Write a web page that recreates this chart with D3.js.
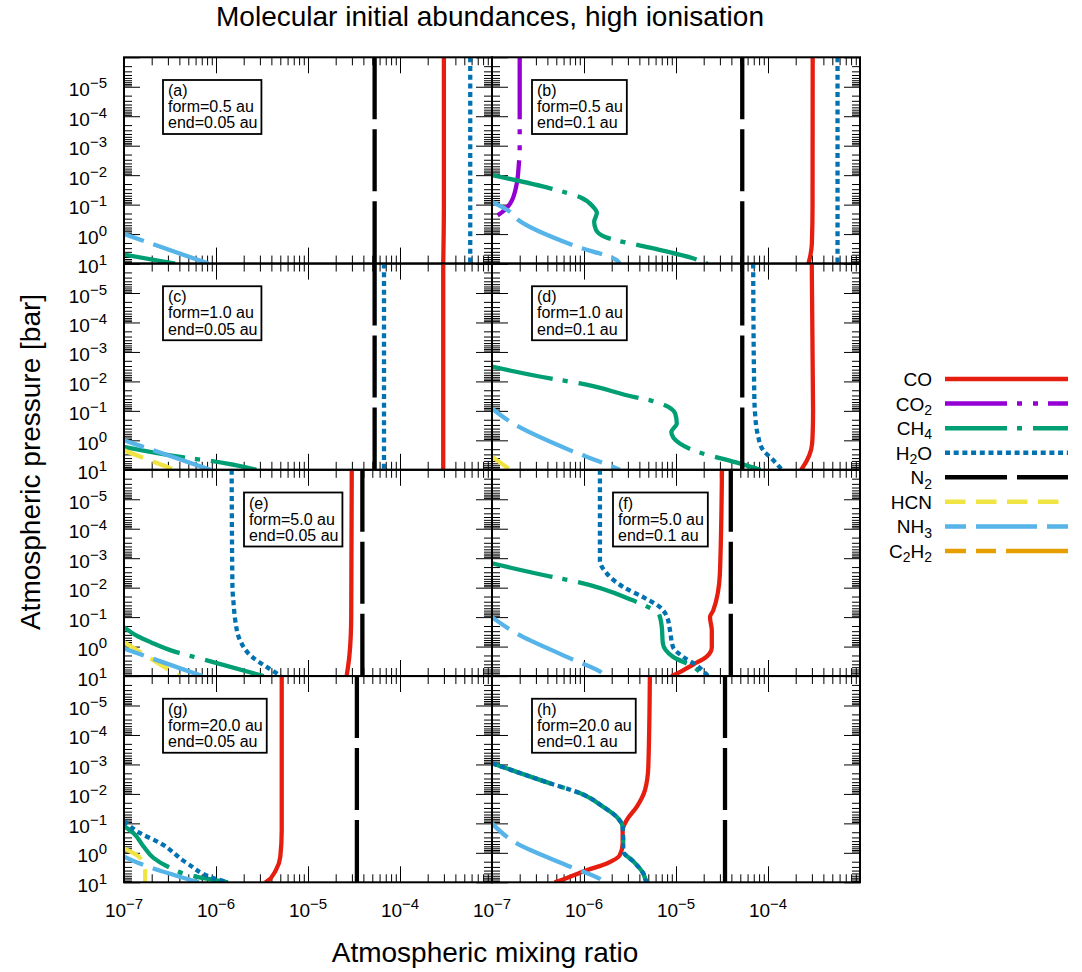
<!DOCTYPE html>
<html><head><meta charset="utf-8">
<script src="https://cdn.jsdelivr.net/npm/d3@7"></script>
<style>
body{margin:0;background:#fff}
text{font-family:"Liberation Sans",Arial,Helvetica,sans-serif;fill:#000}
</style>
</head><body>
<svg id="c" width="1082" height="972"></svg>
<script>
// ---------------- data ----------------
const species = ["CO","CO2","CH4","H2O","N2","HCN","NH3","C2H2"];
const speciesLabels = [
  [["CO",0]], [["CO",0],["2",1]], [["CH",0],["4",1]], [["H",0],["2",1],["O",0]],
  [["N",0],["2",1]], [["HCN",0]], [["NH",0],["3",1]], [["C",0],["2",1],["H",0],["2",1]]
];
const panelLetters = ["a","b","c","d","e","f","g","h"];
const formAu = ["0.5","0.5","1.0","1.0","5.0","5.0","20.0","20.0"];
const endAu  = ["0.05","0.1","0.05","0.1","0.05","0.1","0.05","0.1"];
const xTickExps = [-7,-6,-5,-4];
const yTickExps = [-5,-4,-3,-2,-1,0,1];

// [mixing ratio, pressure (bar)]
// panel (a)
const coA  = [[3.0e-4,1e-6],[3.0e-4,1e-1],[2.95e-4,10]];
const h2oA = [[5.8e-4,1e-6],[5.8e-4,10]];
const n2A  = [[5.3e-5,1e-6],[5.3e-5,10]];
const ch4A = [[1e-7,5.0],[3.6e-7,10]];
const nh3A = [[1e-7,1.0],[8.3e-7,10]];
// panel (b)
const coB  = [[3.06e-4,1e-6],[3.05e-4,1e-1],[3.0e-4,2.0],[2.9e-4,5.0],[2.75e-4,10]];
const co2B = [[2.0e-7,1e-6],[2.0e-7,1e-3],[1.95e-7,5.0e-3],[1.86e-7,1.9e-2],[1.58e-7,9.1e-2],[1.17e-7,0.224],[8.9e-8,0.355]];
const ch4B = [[1.0e-7,1.0e-2],[4.3e-7,2.8e-2],[9.1e-7,5.6e-2],[1.26e-6,0.12],[1.38e-6,0.19],[1.29e-6,0.39],[1.35e-6,0.72],[1.7e-6,1.26],[5.2e-6,2.9],[1.5e-5,6.5],[2.2e-5,10]];
const h2oB = [[5.7e-4,1e-6],[5.7e-4,10]];
const n2B  = [[5.25e-5,1e-6],[5.25e-5,10]];
const nh3B = [[1e-7,8.1e-2],[1.58e-7,0.178],[1.95e-7,0.339],[7.6e-7,2.4],[2.29e-6,7.9],[2.45e-6,10]];
// panel (c)
const coC  = [[2.95e-4,1e-6],[2.95e-4,10]];
const h2oC = [[6.7e-5,1e-6],[6.7e-5,10]];
const n2C  = [[5.3e-5,1e-6],[5.3e-5,10]];
const ch4C = [[1e-7,1.66],[4.47e-7,3.8],[8.7e-7,5.0],[2.75e-6,10]];
const hcnC = [[1e-7,2.19],[3.55e-7,10]];
const nh3C = [[1e-7,1.0],[8.7e-7,10]];
// panel (d)
const coD  = [[2.99e-4,1e-6],[3.09e-4,0.1],[3.05e-4,0.776],[2.95e-4,2.0],[2.63e-4,5.0],[2.29e-4,10]];
const ch4D = [[1e-7,3.16e-3],[4.27e-7,7.9e-3],[9.1e-7,1.17e-2],[3.55e-6,3.4e-2],[5.25e-6,4.4e-2],[7.2e-6,6.0e-2],[9.8e-6,0.123],[1.02e-5,0.27],[8.9e-6,0.525],[1.1e-5,1.29],[1.55e-5,2.19],[5.0e-5,6.2],[8.3e-5,10]];
const h2oD = [[6.9e-5,1e-6],[7.1e-5,3.2e-2],[7.2e-5,0.1],[7.85e-5,0.78],[8.9e-5,2.2],[1.1e-4,4.2],[1.42e-4,10]];
const n2D  = [[5.25e-5,1e-6],[5.25e-5,10]];
const hcnD = [[1e-7,3.6],[1.58e-7,10]];
const nh3D = [[1e-7,8.3e-2],[1.7e-7,0.27],[7.1e-7,2.19],[2.29e-6,9.1],[2.45e-6,10]];
// panel (e)
const coE  = [[2.99e-5,1e-6],[2.95e-5,0.1],[2.82e-5,2.0],[2.63e-5,10]];
const ch4E = [[1e-7,0.219],[1.41e-7,0.447],[1.95e-7,0.708],[3.63e-7,1.51],[7.2e-7,2.69],[3.3e-6,10]];
const h2oE = [[1.48e-6,1e-6],[1.51e-6,1e-2],[1.55e-6,3.2e-2],[1.62e-6,0.13],[1.82e-6,0.6],[2.45e-6,2.2],[3.55e-6,4.9],[5.1e-6,10]];
const n2E  = [[3.9e-5,1e-6],[3.9e-5,10]];
const hcnE = [[1e-7,0.708],[3.98e-7,10]];
const nh3E = [[1e-7,1.17],[7.1e-7,10]];
// panel (f)
const coF  = [[3.16e-5,1e-6],[3.0e-5,3.3e-3],[2.54e-5,5.9e-2],[2.34e-5,0.1],[2.45e-5,0.28],[2.45e-5,1.05],[2.14e-5,2.24],[1.55e-5,4.0],[1.02e-5,8.3],[8.9e-6,10]];
const ch4F = [[1e-7,1.5e-3],[4.5e-7,4.3e-3],[8.3e-7,6.3e-3],[3.4e-6,2.7e-2],[4.8e-6,4.3e-2],[6.5e-6,7.6e-2],[7.0e-6,0.21],[7.2e-6,0.79],[9.3e-6,2.24],[1.55e-5,4.9],[1.9e-5,8.3],[2.04e-5,10]];
const h2oF = [[1.49e-6,1e-6],[1.49e-6,1.2e-3],[1.77e-6,3.3e-3],[2.67e-6,9.5e-3],[4.4e-6,2.1e-2],[6.7e-6,4.6e-2],[8.0e-6,0.1],[8.6e-6,0.28],[9.3e-6,1.05],[1.2e-5,2.24],[1.68e-5,4.4],[2.24e-5,10]];
const n2F  = [[3.94e-5,1e-6],[3.94e-5,10]];
const nh3F = [[1e-7,0.1],[1.86e-7,0.36],[6.5e-7,2.24],[1.62e-6,8.3],[1.74e-6,10]];
// panel (g)
const coG  = [[5.18e-6,1e-6],[5.18e-6,0.17],[5.0e-6,1.35],[4.47e-6,3.9],[3.55e-6,9.5],[3.4e-6,10]];
const ch4G = [[1e-7,0.123],[1.26e-7,0.21],[1.62e-7,0.59],[2.09e-7,1.48],[2.9e-7,2.8],[5.7e-7,6.2],[1.35e-6,10]];
const h2oG = [[1e-7,8.3e-2],[1.48e-7,0.21],[2.45e-7,0.46],[4.8e-7,2.2],[9.3e-7,7.1],[1.35e-6,10]];
const n2G  = [[3.4e-5,1e-6],[3.4e-5,10]];
const hcnG = [[1e-7,0.71],[1.45e-7,1.35],[1.62e-7,2.5],[1.7e-7,4.4],[1.7e-7,10]];
const nh3G = [[1e-7,1.35],[1.48e-7,2.29],[6.5e-7,10]];
// panel (h)
const coH  = [[5.2e-6,1e-6],[5.0e-6,1.2e-3],[4.6e-6,7.4e-3],[3.74e-6,2.75e-2],[2.91e-6,7.8e-2],[2.63e-6,0.17],[2.63e-6,0.48],[2.45e-6,1.2],[1.77e-6,2.29],[1.07e-6,3.9],[5.05e-7,9.5],[4.8e-7,10]];
const ch4H = [[1e-7,9.1e-4],[4.3e-7,4.4e-3],[9.1e-7,9.5e-3],[1.62e-6,2.75e-2],[2.26e-6,6.0e-2],[2.63e-6,0.132],[2.67e-6,0.48],[2.67e-6,0.89],[3.44e-6,1.95],[4.4e-6,4.9],[4.8e-6,9.5],[4.9e-6,10]];
const h2oH = [[1e-7,9.1e-4],[4.3e-7,4.4e-3],[9.1e-7,9.5e-3],[1.62e-6,2.75e-2],[2.26e-6,6.0e-2],[2.63e-6,0.132],[2.67e-6,0.48],[2.67e-6,0.89],[3.44e-6,1.95],[4.4e-6,4.9],[4.8e-6,9.5],[4.9e-6,10]];
const n2H  = [[3.41e-5,1e-6],[3.41e-5,10]];
const nh3H = [[1e-7,0.1],[1.86e-7,0.48],[7.1e-7,2.95],[1.55e-6,8.3],[1.66e-6,10]];

const panelCurves = [
  {CO:coA, CH4:ch4A, H2O:h2oA, N2:n2A, NH3:nh3A},
  {CO:coB, CO2:co2B, CH4:ch4B, H2O:h2oB, N2:n2B, NH3:nh3B},
  {CO:coC, CH4:ch4C, H2O:h2oC, N2:n2C, HCN:hcnC, NH3:nh3C},
  {CO:coD, CH4:ch4D, H2O:h2oD, N2:n2D, HCN:hcnD, NH3:nh3D},
  {CO:coE, CH4:ch4E, H2O:h2oE, N2:n2E, HCN:hcnE, NH3:nh3E},
  {CO:coF, CH4:ch4F, H2O:h2oF, N2:n2F, NH3:nh3F},
  {CO:coG, CH4:ch4G, H2O:h2oG, N2:n2G, HCN:hcnG, NH3:nh3G},
  {CO:coH, CH4:ch4H, H2O:h2oH, N2:n2H, NH3:nh3H}
];

// ---------------- styles / layout ----------------
const colors = {CO:"#e51e10",CO2:"#9400d3",CH4:"#009e73",H2O:"#0072b2",N2:"#000000",HCN:"#f0e442",NH3:"#56b4e9",C2H2:"#e69f00"};
const dashes = {CO:null,CO2:"62,10,5,11,5,10",CH4:"62,10,5,11",H2O:"5,3.7",N2:"62,10",HCN:"20.5,10.5",NH3:"21,10,61,10",C2H2:"21,10,20,10,62,10"};
const boxOffsets = [39,40,39,40,120,121,39,40];
const L = 124, T = 57.3, PW = 368, PH = 206.25, LW = 4.3;

const svg = d3.select("#c");
const x = d3.scaleLog().domain([1e-7,1e-3]).range([0,PW]);
const y = d3.scaleLog().domain([1e-6,10]).range([0,PH]);

const xMajor = [1e-7,1e-6,1e-5,1e-4,1e-3];
const xMinor = []; for (let e=-7;e<-3;e++) for (let m=2;m<=9;m++) xMinor.push(m*Math.pow(10,e));
const yMajor = [1e-6,1e-5,1e-4,1e-3,1e-2,1e-1,1,10];
const yMinor = []; for (let e=-6;e<1;e++) for (let m=2;m<=9;m++) yMinor.push(m*Math.pow(10,e));

const line = d3.line().x(d=>x(d[0])).y(d=>y(d[1])).curve(d3.curveMonotoneY);

const defs = svg.append("defs");
defs.append("clipPath").attr("id","pclip").append("rect").attr("width",PW).attr("height",PH);

function drawAxes(g){
  const mk = (axis, tr) => {
    const a = g.append("g").attr("transform",tr).call(axis);
    a.select(".domain").remove();
    a.selectAll("line").attr("stroke","#000").attr("stroke-width",1);
  };
  [[xMajor,16],[xMinor,8]].forEach(([v,s])=>{
    mk(d3.axisBottom(x).tickValues(v).tickSize(-s).tickFormat(""), `translate(0,${PH})`);
    mk(d3.axisTop(x).tickValues(v).tickSize(-s).tickFormat(""), `translate(0,0)`);
  });
  [[yMajor,16],[yMinor,8]].forEach(([v,s])=>{
    mk(d3.axisLeft(y).tickValues(v).tickSize(-s).tickFormat(""), `translate(0,0)`);
    mk(d3.axisRight(y).tickValues(v).tickSize(-s).tickFormat(""), `translate(${PW},0)`);
  });
}

panelCurves.forEach((pc,i)=>{
  const col = i%2, row = Math.floor(i/2);
  const g = svg.append("g").attr("transform",`translate(${L+col*PW},${T+row*PH})`);
  drawAxes(g);
  const cg = g.append("g").attr("clip-path","url(#pclip)");
  species.forEach(s=>{
    if(!pc[s]) return;
    cg.append("path").datum(pc[s]).attr("d",line)
      .attr("fill","none").attr("stroke",colors[s]).attr("stroke-width",LW)
      .attr("stroke-linecap","butt").attr("stroke-linejoin","round")
      .attr("stroke-dasharray",dashes[s]);
  });
  g.append("rect").attr("width",PW).attr("height",PH).attr("fill","none")
    .attr("stroke","#000").attr("stroke-width",2);
  // label box
  const bg = g.append("g").attr("transform",`translate(${boxOffsets[i]},22.7)`);
  const lines = [`(${panelLetters[i]})`,`form=${formAu[i]} au`,`end=${endAu[i]} au`];
  const rect = bg.append("rect").attr("fill","#fff").attr("stroke","#000").attr("stroke-width",1.8);
  let maxW = 0;
  lines.forEach((t,k)=>{
    const tx = bg.append("text").attr("x",5).attr("y",16+k*16.2).attr("font-size",16).text(t);
    maxW = Math.max(maxW, tx.node().getComputedTextLength());
  });
  rect.attr("width",maxW+9).attr("height",54);

  // tick labels
  if(col===0){
    yTickExps.forEach(e=>{
      const t = g.append("text").attr("x",-17).attr("y",y(Math.pow(10,e))+9.5)
        .attr("text-anchor","end").attr("font-size",19);
      t.append("tspan").text("10");
      t.append("tspan").attr("dy",-8).attr("font-size",15).text(e<0?"\u2212"+(-e):String(e));
    });
  }
  if(row===3){
    xTickExps.forEach(e=>{
      const t = g.append("text").attr("x",x(Math.pow(10,e))).attr("y",PH+35)
        .attr("text-anchor","middle").attr("font-size",19);
      t.append("tspan").text("10");
      t.append("tspan").attr("dy",-8).attr("font-size",15).text("\u2212"+(-e));
    });
  }
});

// titles
svg.append("text").attr("x",490).attr("y",26).attr("text-anchor","middle").attr("font-size",28)
  .text("Molecular initial abundances, high ionisation");
svg.append("text").attr("x",485).attr("y",962).attr("text-anchor","middle").attr("font-size",28)
  .text("Atmospheric mixing ratio");
svg.append("text").attr("transform","translate(40,462) rotate(-90)").attr("text-anchor","middle").attr("font-size",28)
  .text("Atmospheric pressure [bar]");

// legend
const lg = svg.append("g");
species.forEach((s,k)=>{
  const yy = 379 + k*24.57;
  lg.append("line").attr("x1",945).attr("x2",1068).attr("y1",yy).attr("y2",yy)
    .attr("stroke",colors[s]).attr("stroke-width",4.5).attr("stroke-dasharray",dashes[s]);
  const t = lg.append("text").attr("x",932).attr("y",yy+7).attr("text-anchor","end").attr("font-size",19);
  let sub = false;
  speciesLabels[k].forEach(([txt,isSub])=>{
    const sp = t.append("tspan").text(txt);
    if(isSub && !sub){ sp.attr("dy",4.3).attr("font-size",14); sub = true; }
    else if(isSub){ sp.attr("font-size",14); }
    else if(!isSub && sub){ sp.attr("dy",-4.3); sub = false; }
  });
});
</script>
</body></html>
